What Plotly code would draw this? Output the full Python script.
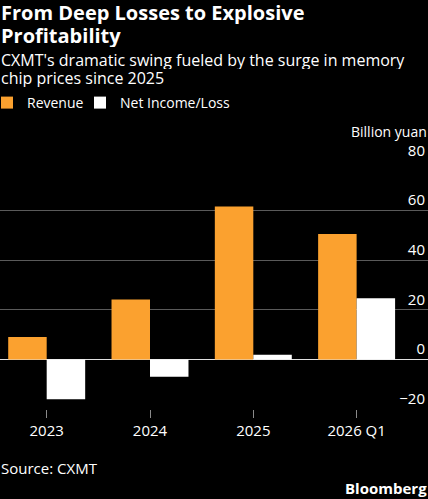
import plotly.graph_objects as go

categories = ["2023", "2024", "2025", "2026 Q1"]
revenue = [9.0, 24.2, 61.7, 50.6]
net_income = [-16.1, -7.0, 1.9, 24.7]
y_ticks = [-20, 0, 20, 40, 60, 80]

W, H = 428, 499
TOP, BOT = 161, 409
FONT = "Open Sans"

def py(p):
    return (BOT - p) / (BOT - TOP)

fig = go.Figure()
fig.add_trace(go.Bar(name="Revenue", x=categories, y=revenue, marker_color="#FBA12F",
                     marker_line_width=0, legend="legend"))
fig.add_trace(go.Bar(name="Net Income/Loss", x=categories, y=net_income, marker_color="#FFFFFF",
                     marker_line_width=0, legend="legend2"))

leg_common = dict(orientation="h", xref="paper", yref="paper", xanchor="left", yanchor="middle",
                  y=py(103), font=dict(size=14, color="#FFFFFF"), bgcolor="rgba(0,0,0,0)",
                  itemclick=False, borderwidth=0)

fig.update_layout(
    width=W, height=H,
    margin=dict(l=0, r=0, t=TOP, b=H - BOT, autoexpand=False),
    paper_bgcolor="#000000", plot_bgcolor="#000000",
    barmode="group", bargap=0.255, bargroupgap=0,
    font=dict(family=FONT, color="#FFFFFF", size=14),
    showlegend=True,
    legend=dict(x=-13 / W, **leg_common),
    legend2=dict(x=80 / W, **leg_common),
    xaxis=dict(type="category", range=[-0.452, 3.691], showgrid=False, zeroline=False,
               ticks="outside", ticklen=8, tickcolor="#8a8a8a", tickwidth=1,
               tickfont=dict(size=15, color="#FFFFFF"), showline=False, fixedrange=True),
    yaxis=dict(range=[-20, 80], tickvals=y_ticks, side="right",
               ticklabelposition="inside top", ticklabeloverflow="allow",
               showgrid=True, gridcolor="#5a5a5a", gridwidth=1.2,
               zeroline=True, zerolinecolor="#E0E0E0", zerolinewidth=1,
               tickfont=dict(size=15, color="#FFFFFF"), ticks="", fixedrange=True),
)

def ann(text, x, y, size, bold=False, xanchor="left", color="#FFFFFF", height=None):
    fig.add_annotation(text=("<b>%s</b>" % text) if bold else text, x=x, y=py(y), xref="paper", yref="paper",
                       xanchor=xanchor, yanchor="middle", showarrow=False, height=height, borderpad=0,
                       font=dict(size=size, color=color, family=FONT))

ann("From Deep Losses to Explosive", 0, 12.5, 20, bold=True, height=23)
ann("Profitability", 0, 36, 20, bold=True, height=23)
ann("CXMT's dramatic swing fueled by the surge in memory", 0, 59.5, 16, height=18)
ann("chip prices since 2025", 0, 78, 16, height=18)
ann("Billion yuan", 1.0, 131, 14, xanchor="right")
ann("Source: CXMT", 0, 468, 15)
ann("Bloomberg", 1.0, 488, 15, bold=True, xanchor="right")

fig.write_html("out.html")
